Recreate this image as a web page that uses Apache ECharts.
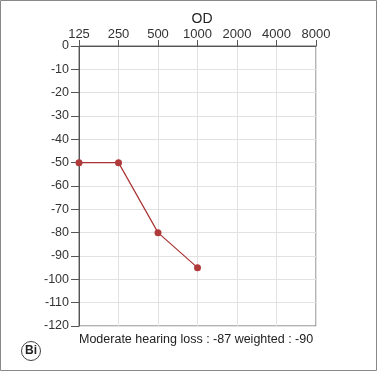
<!DOCTYPE html>
<html><head><meta charset="utf-8">
<script src="https://cdn.jsdelivr.net/npm/echarts@6/dist/echarts.min.js"></script>
<style>html,body{margin:0;padding:0;background:#fff}#c{width:377px;height:371px}</style>
</head><body><div id="c"></div>
<script>
const frequencies = ['125','250','500','1000','2000','4000','8000'];
const hearingLevels = [-50, -50, -80, -95, null, null, null];
const yTicks = {min: -120, max: 0, step: 10};
const title = 'OD';
const footer = 'Moderate hearing loss : -87 weighted : -90';
const panelLabel = 'Bi';

const chart = echarts.init(document.getElementById('c'), null, {renderer:'canvas'});
const font = 'Liberation Sans, Arial, sans-serif';
chart.setOption({
  animation: false,
  backgroundColor: '#fff',
  title: {text: title, left: 197, top: 7, textAlign: 'center',
    textStyle: {fontSize: 14, fontWeight: 'normal', color: '#222', fontFamily: font}},
  grid: {left: 79, right: 61, top: 46, bottom: 45, show: true, borderColor: '#666', borderWidth: 1},
  xAxis: {type: 'category', position: 'top', data: frequencies, boundaryGap: false,
    axisLine: {show: true, lineStyle: {color: '#555'}},
    axisTick: {show: true, length: 6, lineStyle: {color: '#555'}},
    axisLabel: {color: '#333', fontSize: 13, fontFamily: font, margin: 5},
    splitLine: {show: true, lineStyle: {color: '#e2e2e2'}}},
  yAxis: {type: 'value', min: yTicks.min, max: yTicks.max, interval: yTicks.step,
    axisLine: {show: true, lineStyle: {color: '#555'}},
    axisTick: {show: true, length: 8, lineStyle: {color: '#555'}},
    axisLabel: {color: '#333', fontSize: 12.5, fontFamily: font, margin: 10},
    splitLine: {show: true, lineStyle: {color: '#e2e2e2'}}},
  series: [{type: 'line', data: hearingLevels, connectNulls: false,
    symbol: 'circle', symbolSize: 7,
    lineStyle: {color: '#a83232', width: 1.2},
    itemStyle: {color: '#b03a3a'}}],
  graphic: [
    {type: 'rect', shape: {x: 0.5, y: 0.5, width: 376, height: 370}, style: {fill: 'none', stroke: '#888', lineWidth: 1}, silent: true},
    {type: 'text', left: 79, top: 333, style: {text: footer, fontSize: 12.5, fill: '#222', fontFamily: font}},
    {type: 'circle', shape: {cx: 31, cy: 351, r: 9.5}, style: {fill: '#fff', stroke: '#444', lineWidth: 1}},
    {type: 'text', x: 31, y: 351, style: {text: panelLabel, fontSize: 12, fontWeight: 'bold', fill: '#222', fontFamily: font, align: 'center', verticalAlign: 'middle'}}
  ]
});
</script></body></html>
